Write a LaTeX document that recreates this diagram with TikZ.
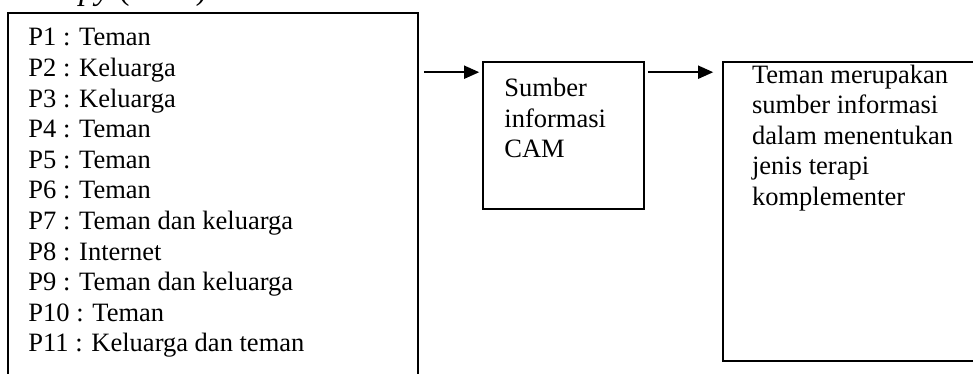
\documentclass[tikz,border=0pt]{standalone}
\usepackage{fontspec}
\setmainfont{Liberation Serif}
\usetikzlibrary{arrows.meta}
\begin{document}
\begin{tikzpicture}[x=1pt,y=-1pt,
  frame/.style={draw, line width=1.6pt, inner sep=0pt},
  body/.style={inner sep=0pt, anchor=base west, font=\fontsize{26.5}{30.6}\selectfont},
  arr/.style={-{Triangle[length=15pt,width=13pt]}, line width=1.6pt}]
\useasboundingbox (0,0) rectangle (973,374);
\clip (0,0) rectangle (973,374);

% running heading above the figure
\node[inner sep=0pt, anchor=base east, font=\fontsize{33}{36}\selectfont] (head) at (215,-0.5) {\textit{therapy} (2001).};

% boxes
\node[frame, minimum width=410pt, minimum height=387pt] (src) at (213,206.5) {};
\node[frame, minimum width=161pt, minimum height=147pt] (mid) at (563.5,135.5) {};
\node[frame, minimum width=277pt, minimum height=299pt] (res) at (861.5,211.5) {};

% box contents
\node[body] (srctext) at ([shift={(21,33.7)}]src.north west) {\parbox[t]{380pt}{\raggedright
P1 : Teman\\
P2 : Keluarga\\
P3 : Keluarga\\
P4 : Teman\\
P5 : Teman\\
P6 : Teman\\
P7 : Teman dan keluarga\\
P8 : Internet\\
P9 : Teman dan keluarga\\
P10 : Teman\\
P11 : Keluarga dan teman}};

\node[body] (midtext) at ([shift={(22,35.3)}]mid.north west) {\parbox[t]{135pt}{\raggedright
Sumber\\
informasi\\
CAM}};

\node[body] (restext) at ([shift={(29.7,22)}]res.north west) {\parbox[t]{240pt}{\raggedright
Teman merupakan\\
sumber informasi\\
dalam menentukan\\
jenis terapi\\
komplementer}};

% connectors
\draw[arr] ([shift={(5,60)}]src.north east) -- ([shift={(-3,11)}]mid.north west);
\draw[arr] ([shift={(3,11)}]mid.north east) -- ([shift={(-9,11)}]res.north west);
\end{tikzpicture}
\end{document}
